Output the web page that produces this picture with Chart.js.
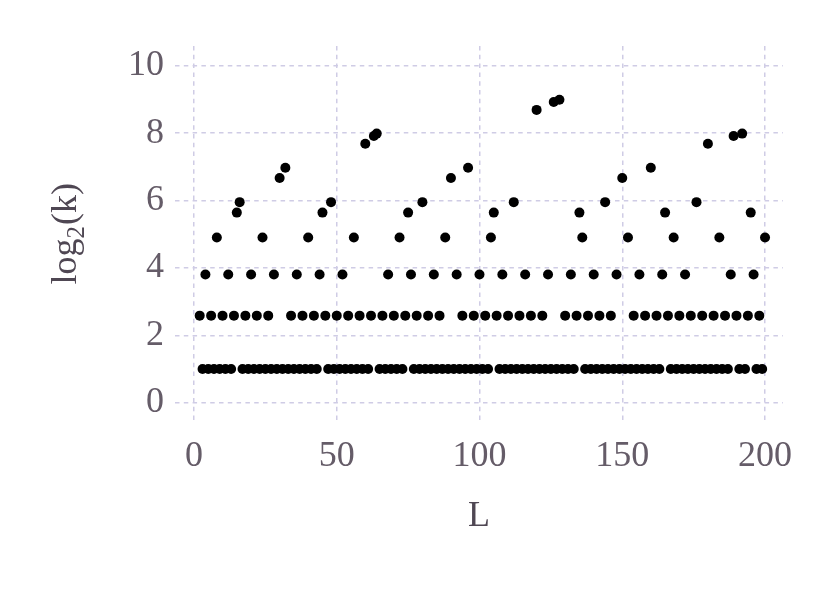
<!DOCTYPE html>
<html>
<head>
<meta charset="utf-8">
<script src="https://cdn.jsdelivr.net/npm/chart.js@4"></script>
<style>
  html, body { margin: 0; padding: 0; background: #ffffff; }
  #wrap { width: 830px; height: 593px; }
</style>
</head>
<body>
<div id="wrap"><canvas id="chart" width="830" height="593"></canvas></div>
<script>
// L values (x) and log2(k) values (y)
const lValues = [
  2, 3, 4, 5, 6, 7, 8, 9, 10, 11,
  12, 13, 14, 15, 16, 17, 18, 19, 20, 21,
  22, 23, 24, 25, 26, 27, 28, 29, 30, 31,
  32, 33, 34, 35, 36, 37, 38, 39, 40, 41,
  42, 43, 44, 45, 46, 47, 48, 49, 50, 51,
  52, 53, 54, 55, 56, 57, 58, 59, 60, 61,
  62, 63, 64, 65, 66, 67, 68, 69, 70, 71,
  72, 73, 74, 75, 76, 77, 78, 79, 80, 81,
  82, 83, 84, 85, 86, 87, 88, 89, 90, 91,
  92, 93, 94, 95, 96, 97, 98, 99, 100, 101,
  102, 103, 104, 105, 106, 107, 108, 109, 110, 111,
  112, 113, 114, 115, 116, 117, 118, 119, 120, 121,
  122, 123, 124, 125, 126, 127, 128, 129, 130, 131,
  132, 133, 134, 135, 136, 137, 138, 139, 140, 141,
  142, 143, 144, 145, 146, 147, 148, 149, 150, 151,
  152, 153, 154, 155, 156, 157, 158, 159, 160, 161,
  162, 163, 164, 165, 166, 167, 168, 169, 170, 171,
  172, 173, 174, 175, 176, 177, 178, 179, 180, 181,
  182, 183, 184, 185, 186, 187, 188, 189, 190, 191,
  192, 193, 194, 195, 196, 197, 198, 199, 200
];
const log2K = [
  2.585, 1, 3.807, 1, 2.585, 1, 4.907, 1, 2.585, 1,
  3.807, 1, 2.585, 5.644, 5.954, 1, 2.585, 1, 3.807, 1,
  2.585, 1, 4.907, 1, 2.585, 1, 3.807, 1, 6.672, 1,
  6.977, 1, 2.585, 1, 3.807, 1, 2.585, 1, 4.907, 1,
  2.585, 1, 3.807, 5.644, 2.585, 1, 5.954, 1, 2.585, 1,
  3.807, 1, 2.585, 1, 4.907, 1, 2.585, 1, 7.686, 1,
  2.585, 7.919, 7.989, 1, 2.585, 1, 3.807, 1, 2.585, 1,
  4.907, 1, 2.585, 5.644, 3.807, 1, 2.585, 1, 5.954, 1,
  2.585, 1, 3.807, 1, 2.585, 1, 4.907, 1, 6.672, 1,
  3.807, 1, 2.585, 1, 6.977, 1, 2.585, 1, 3.807, 1,
  2.585, 1, 4.907, 5.644, 2.585, 1, 3.807, 1, 2.585, 1,
  5.954, 1, 2.585, 1, 3.807, 1, 2.585, 1, 8.693, 1,
  2.585, 1, 3.807, 1, 8.925, 1, 8.994, 1, 2.585, 1,
  3.807, 1, 2.585, 5.644, 4.907, 1, 2.585, 1, 3.807, 1,
  2.585, 1, 5.954, 1, 2.585, 1, 3.807, 1, 6.672, 1,
  4.907, 1, 2.585, 1, 3.807, 1, 2.585, 1, 6.977, 1,
  2.585, 1, 3.807, 5.644, 2.585, 1, 4.907, 1, 2.585, 1,
  3.807, 1, 2.585, 1, 5.954, 1, 2.585, 1, 7.686, 1,
  2.585, 1, 4.907, 1, 2.585, 1, 3.807, 7.919, 2.585, 1,
  7.989, 1, 2.585, 5.644, 3.807, 1, 2.585, 1, 4.907
];
const xTicks = [0, 50, 100, 150, 200];
const yTicks = [0, 2, 4, 6, 8, 10];

const tickColor = '#655c68';
const titleColor = '#4f4753';
const gridColor = '#cfcce5';
const serif = "'Liberation Serif', 'DejaVu Serif', serif";

// axis titles: "L" below, "log2(k)" rotated with subscript on the left
const axisTitles = {
  id: 'axisTitles',
  afterDraw(chart) {
    const ctx = chart.ctx;
    const area = chart.chartArea;
    ctx.save();
    ctx.fillStyle = titleColor;
    ctx.font = '36px ' + serif;
    ctx.textAlign = 'center';
    ctx.textBaseline = 'alphabetic';
    ctx.fillText('L', (area.left + area.right) / 2, 526);

    const cy = (area.top + area.bottom) / 2;
    ctx.translate(76, cy);
    ctx.rotate(-Math.PI / 2);
    ctx.textAlign = 'left';
    const big = '36px ' + serif;
    const small = '25px ' + serif;
    ctx.font = big;
    const w1 = ctx.measureText('log').width;
    const w3 = ctx.measureText('(k)').width;
    ctx.font = small;
    const w2 = ctx.measureText('2').width;
    let x = -(w1 + w2 + w3 + 1) / 2;
    ctx.font = big;
    ctx.fillText('log', x, 0);
    x += w1;
    ctx.font = small;
    ctx.fillText('2', x, 8);
    x += w2 + 1;
    ctx.font = big;
    ctx.fillText('(k)', x, 0);
    ctx.restore();
  }
};

new Chart(document.getElementById('chart'), {
  type: 'scatter',
  data: {
    datasets: [{
      data: lValues.map((l, i) => ({ x: l, y: log2K[i] })),
      pointRadius: 5,
      pointHoverRadius: 5,
      pointBorderWidth: 0,
      pointBackgroundColor: '#000000',
      pointBorderColor: '#000000'
    }]
  },
  options: {
    responsive: false,
    animation: false,
    devicePixelRatio: 1,
    layout: { padding: { top: 46, right: 47, left: 0, bottom: 0 } },
    plugins: {
      legend: { display: false },
      tooltip: { enabled: false }
    },
    scales: {
      x: {
        type: 'linear',
        min: -6.65,
        max: 206.3,
        afterBuildTicks: (scale) => { scale.ticks = xTicks.map(v => ({ value: v })); },
        afterFit: (scale) => { scale.height = 593 - 421.7; },
        grid: { color: gridColor, lineWidth: 1.5, drawTicks: false },
        border: { display: false, dash: [4.5, 4.3] },
        ticks: {
          color: tickColor,
          font: { family: serif, size: 36 },
          padding: 13,
          maxRotation: 0,
          autoSkip: false
        }
      },
      y: {
        type: 'linear',
        min: -0.564,
        max: 10.59,
        afterBuildTicks: (scale) => { scale.ticks = yTicks.map(v => ({ value: v })); },
        afterFit: (scale) => { scale.width = 175; },
        grid: { color: gridColor, lineWidth: 1.5, drawTicks: false },
        border: { display: false, dash: [4.5, 4.3] },
        ticks: {
          color: tickColor,
          font: { family: serif, size: 36 },
          padding: 11,
          autoSkip: false
        }
      }
    }
  },
  plugins: [axisTitles]
});
</script>
</body>
</html>
